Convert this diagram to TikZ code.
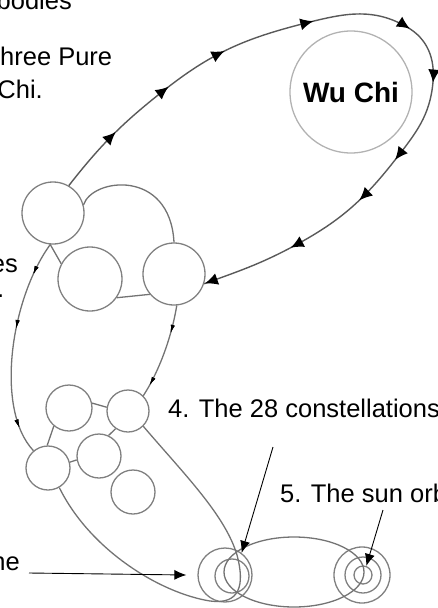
\documentclass[tikz,border=0pt]{standalone}
\usepackage{fontspec}
\setmainfont{Liberation Sans}
\usetikzlibrary{arrows.meta,decorations.markings}
\newcommand{\flowtip}{\arrow[black]{Latex[length=13pt,width=12pt]}}
\tikzset{
  orb/.style      = {circle, draw=black!50, line width=1.3pt, inner sep=0pt},
  bigorb/.style   = {orb, minimum size=62pt},
  smallorb/.style = {orb, minimum size=44pt},
  link/.style     = {black!55, line width=1.3pt},
  orbit/.style    = {black!65, line width=1.4pt},
  lbl/.style      = {font=\fontsize{25.5}{30}\selectfont, inner sep=0pt},
  pointer/.style  = {-{Latex[length=12pt,width=10pt]}, line width=0.9pt},
  flowmarks/.style = {postaction={decorate}, decoration={markings,
      mark=at position 0.091 with {\flowtip},
      mark=at position 0.18 with {\flowtip},
      mark=at position 0.265 with {\flowtip},
      mark=at position 0.385 with {\flowtip},
      mark=at position 0.513 with {\flowtip},
      mark=at position 0.592 with {\flowtip},
      mark=at position 0.704 with {\flowtip},
      mark=at position 0.773 with {\flowtip},
      mark=at position 0.88 with {\flowtip},
      mark=at position 0.999 with {\flowtip}}},
  slimmarks/.style = {postaction={decorate}, decoration={markings,
      mark=at position #1 with {\arrow[black]{Latex[length=9pt,width=4pt]}}}}
}

\begin{document}
\begin{tikzpicture}[x=1pt,y=-1pt]
  \useasboundingbox (0,0) rectangle (437,608);

  % captions, cut off at the left edge
  \node[lbl, anchor=base east] (lblbodies) at (72,9) {bodies};
  \node[lbl, anchor=base west] (lblpure) at (0,65) {hree Pure};
  \node[lbl, anchor=base east] (lblchi) at (43,98) {Chi.};
  \node[lbl, anchor=base east] (lbles) at (18,272) {es};
  \node[lbl, anchor=base west] (lbldot) at (-3,297) {.};
  \node[lbl, anchor=base east] (lblne) at (20,570) {ne};
  \node[lbl, anchor=base west] (lblstars) at (168,417) {4. The 28 constellations};
  \node[lbl, anchor=base west] (lblsun) at (280,502) {5. The sun orb};

  % Wu Chi
  \node[orb, draw=black!30, minimum size=122pt,
        font=\bfseries\fontsize{28}{32}\selectfont] (wuchi) at (351,92) {Wu Chi};

  % upper bodies
  \node[bigorb] (A) at (53,213) {};
  \node[bigorb, minimum size=64pt] (B) at (90,279) {};
  \node[bigorb] (C) at (174,274) {};

  % lower cluster
  \node[smallorb, minimum size=46pt] (D) at (69,408) {};
  \node[smallorb, minimum size=42pt] (E) at (128,411) {};
  \node[smallorb] (F) at (48,468) {};
  \node[smallorb] (G) at (99,456) {};
  \node[smallorb] (H) at (133,492) {};

  % sun and stars
  \node[orb, minimum size=54pt] (I) at (225,575) {};
  \node[orb, minimum size=34pt] (Iin) at (232,576) {};
  \node[orb, minimum size=56pt] (J) at (362,575) {};
  \node[orb, minimum size=36pt] (Jmid) at (363,575) {};
  \node[orb, minimum size=18pt] (Jin) at (363,575) {};
  \coordinate (sunorbit) at (294,572);

  % great orbit round Wu Chi
  \draw[orbit, flowmarks] (A.60) to[out=52, in=-142] (167,88)
        to[out=38, in=-166] (310,22) to[out=14, in=150] (407,27)
        to[out=-30, in=85] (433,82) to[out=-95, in=52] (395,160)
        to[out=-128, in=28] (292,247) to[out=-152, in=20] (C.-18);

  \draw[link] (A.15) .. controls (92,178) and (170,168) .. (C.north);
  \draw[link] (A.-95) -- (B.152);
  \draw[link] (B.-35) -- (C.-140);
  \draw[link, slimmarks=0.16, slimmarks=0.42, slimmarks=0.88]
        (A.-95) .. controls (10,300) and (-5,410) .. (F.130);
  \draw[link, slimmarks=0.3, slimmarks=0.88]
        (C.-85) .. controls (172,335) and (160,370) .. (E.45);
  \draw[link] (D.12) -- (E.170);
  \draw[link] (D.-130) -- (F.92);
  \draw[link] (F.15) -- (G.190);
  \draw[link] (E.-125) -- (G.65);
  \draw[link] (E.-45) .. controls (185,475) and (225,515) .. (237,555)
        .. controls (245,585) and (240,605) .. (210,601)
        .. controls (160,593) and (90,550) .. (F.-60);
  \draw[link] (sunorbit) ellipse [x radius=70, y radius=35];

  % pointers from the captions
  \coordinate (starsfoot) at (273,447);
  \coordinate (sunfoot) at (383,510);
  \draw[pointer] ([shift={(9,3)}]lblne.base east) -- ([xshift=-11pt]I.west);
  \draw[pointer] (starsfoot) -- (I.53);
  \draw[pointer] (sunfoot) -- (Jin.70);
\end{tikzpicture}
\end{document}
